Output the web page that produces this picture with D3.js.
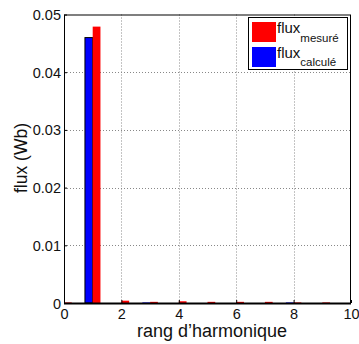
<!DOCTYPE html>
<html><head><meta charset="utf-8">
<script src="https://cdn.jsdelivr.net/npm/d3@7"></script>
<style>body{margin:0;background:#fff}svg{display:block;font-family:"Liberation Sans",Arial,sans-serif}</style>
</head><body><svg id="c" width="359" height="344"></svg>
<script>
const harmonics = [0,1,2,3,4,5,6,7,8,9];
const fluxMesure = [0.0001,0.0479,0.0004,0.0002,0.0003,0.0002,0.0002,0.0002,0.0001,0.0001];
const fluxCalcule = [0,0.046,0,0.0001,0,0,0,0,0.0001,0];
const xTicks = [0,2,4,6,8,10];
const yTicks = [0,0.01,0.02,0.03,0.04,0.05];
const yTickLabels = ["0","0.01","0.02","0.03","0.04","0.05"];

const svg = d3.select("#c");
const m = {l:64, r:351, t:14.5, b:303};
const x = d3.scaleLinear().domain([0,10]).range([m.l,m.r]);
const y = d3.scaleLinear().domain([0,0.05]).range([m.b,m.t]);
const bw = 0.27;

// grid
const g = svg.append("g");
g.selectAll(".gx").data(xTicks.filter(d=>d>0&&d<10)).enter().append("line")
 .attr("x1",d=>Math.round(x(d))+0.5).attr("x2",d=>Math.round(x(d))+0.5).attr("y1",m.t).attr("y2",m.b)
 .attr("stroke","#888").attr("stroke-dasharray","1,2");
g.selectAll(".gy").data(yTicks.filter(d=>d>0&&d<0.05)).enter().append("line")
 .attr("y1",d=>Math.round(y(d))+0.5).attr("y2",d=>Math.round(y(d))+0.5).attr("x1",m.l).attr("x2",m.r)
 .attr("stroke","#888").attr("stroke-dasharray","1,2");

// bars
svg.selectAll(".bc").data(harmonics).enter().append("rect")
 .attr("x",d=>x(d-bw)).attr("width",x(bw)-x(0))
 .attr("y",(d,i)=>y(fluxCalcule[i])).attr("height",(d,i)=>y(0)-y(fluxCalcule[i]))
 .attr("fill","#0000ff").attr("stroke",(d,i)=>fluxCalcule[i]>0.001?"#000":"none").attr("stroke-width",1);
svg.selectAll(".bm").data(harmonics).enter().append("rect")
 .attr("x",d=>x(d)).attr("width",x(bw)-x(0))
 .attr("y",(d,i)=>y(fluxMesure[i])).attr("height",(d,i)=>y(0)-y(fluxMesure[i]))
 .attr("fill","#ff0000");

// axes box
svg.append("rect").attr("x",m.l+0.5).attr("y",m.t+0.5).attr("width",m.r-m.l-1).attr("height",m.b-m.t)
 .attr("fill","none").attr("stroke","#000").attr("stroke-width",1);
svg.append("line").attr("x1",m.l).attr("x2",m.r).attr("y1",m.b+0.5).attr("y2",m.b+0.5).attr("stroke","#000").attr("stroke-width",2);

// ticks inward
const xa = d3.axisBottom(x).tickValues(xTicks).tickSize(-3).tickPadding(6).tickFormat(d3.format("d"));
const ax = svg.append("g").attr("transform",`translate(0,${m.b})`).call(xa);
const ya = d3.axisLeft(y).tickValues(yTicks).tickSize(-3).tickPadding(3).tickFormat((d,i)=>yTickLabels[i]);
const ay = svg.append("g").attr("transform",`translate(${m.l},0)`).call(ya);
[ax,ay].forEach(a=>{a.select(".domain").remove();a.selectAll("text").attr("font-size",14.5).attr("fill","#111").attr("font-family","Liberation Sans, Arial, sans-serif");a.selectAll("line").attr("stroke","#000");});
ay.selectAll("text").attr("dy","0.35em");

// labels
svg.append("text").attr("x",212).attr("y",337).attr("text-anchor","middle").attr("font-size",18).attr("fill","#111").text("rang d\u2019harmonique");
svg.append("text").attr("transform",`translate(27,158) rotate(-90)`).attr("text-anchor","middle").attr("font-size",17.5).attr("fill","#111").text("flux (Wb)");

// legend
const lg = svg.append("g");
lg.append("rect").attr("x",248.5).attr("y",17.5).attr("width",99).attr("height",52).attr("fill","#fff").attr("stroke","#000").attr("stroke-width",1);
const items = [{c:"#ff0000",sub:"mesur\u00e9",y:22,dy:8.5},{c:"#0000ff",sub:"calcul\u00e9",y:47,dy:8}];
items.forEach(it=>{
  lg.append("rect").attr("x",252).attr("y",it.y).attr("width",24).attr("height",20).attr("fill",it.c);
  const t = lg.append("text").attr("x",277).attr("y",it.y+11).attr("font-size",15).attr("fill","#111");
  t.append("tspan").text("flux");
  t.append("tspan").attr("dy",it.dy).attr("font-size",11.5).text(it.sub);
});
</script></body></html>
